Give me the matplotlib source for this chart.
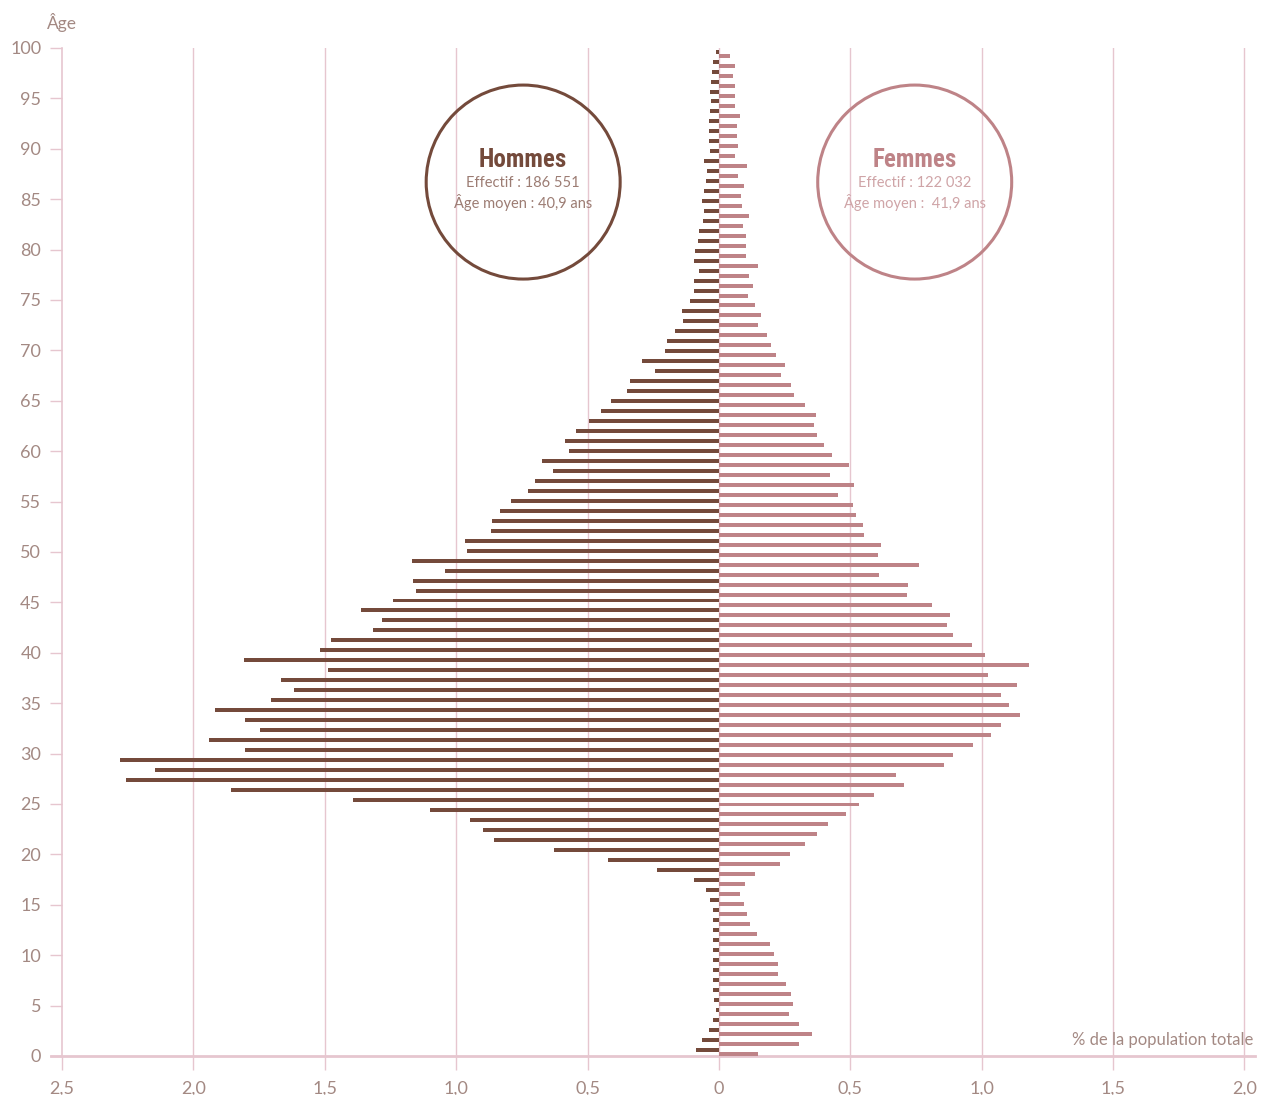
import matplotlib.pyplot as plt
from matplotlib.patches import Ellipse

# pyramide des âges, en % de la population totale
ages = list(range(0, 101))

hommes = [0.089, 0.066, 0.036, 0.024, 0.012, 0.017, 0.021, 0.021, 0.024, 0.024,
          0.024, 0.021, 0.024, 0.021, 0.024, 0.035, 0.051, 0.096, 0.234, 0.421,
          0.627, 0.855, 0.896, 0.946, 1.100, 1.394, 1.855, 2.256, 2.145, 2.281,
          1.805, 1.939, 1.747, 1.805, 1.919, 1.706, 1.618, 1.667, 1.489, 1.808,
          1.518, 1.477, 1.317, 1.283, 1.362, 1.240, 1.152, 1.163, 1.041, 1.167,
          0.957, 0.968, 0.867, 0.862, 0.835, 0.790, 0.726, 0.701, 0.633, 0.672,
          0.572, 0.584, 0.545, 0.495, 0.450, 0.412, 0.351, 0.337, 0.244, 0.294,
          0.204, 0.199, 0.168, 0.138, 0.142, 0.111, 0.096, 0.096, 0.077, 0.096,
          0.093, 0.081, 0.077, 0.062, 0.055, 0.066, 0.055, 0.051, 0.046, 0.055,
          0.035, 0.039, 0.039, 0.039, 0.035, 0.032, 0.035, 0.032, 0.028, 0.024,
          0.013]

femmes = [0.147, 0.303, 0.353, 0.303, 0.268, 0.281, 0.276, 0.257, 0.223, 0.223,
          0.208, 0.193, 0.143, 0.120, 0.105, 0.094, 0.082, 0.098, 0.139, 0.232,
          0.269, 0.328, 0.373, 0.416, 0.484, 0.534, 0.590, 0.706, 0.672, 0.857,
          0.889, 0.968, 1.036, 1.075, 1.147, 1.102, 1.075, 1.136, 1.023, 1.181,
          1.011, 0.962, 0.891, 0.869, 0.880, 0.812, 0.717, 0.719, 0.611, 0.762,
          0.606, 0.618, 0.552, 0.550, 0.523, 0.511, 0.452, 0.514, 0.423, 0.495,
          0.430, 0.400, 0.373, 0.362, 0.369, 0.328, 0.285, 0.274, 0.235, 0.251,
          0.217, 0.197, 0.182, 0.148, 0.160, 0.136, 0.110, 0.128, 0.113, 0.148,
          0.102, 0.102, 0.102, 0.090, 0.113, 0.087, 0.083, 0.094, 0.072, 0.105,
          0.063, 0.071, 0.067, 0.067, 0.079, 0.060, 0.060, 0.060, 0.052, 0.060,
          0.041]

x_ticks = [-2.5, -2.0, -1.5, -1.0, -0.5, 0, 0.5, 1.0, 1.5, 2.0]
x_labels = ['2,5', '2,0', '1,5', '1,0', '0,5', '0', '0,5', '1,0', '1,5', '2,0']
y_ticks = list(range(0, 101, 5))

col_h = '#744a3b'
col_f = '#be8387'
col_grid = '#e6c6cf'
col_txt = '#a38983'

plt.rcParams['font.family'] = ['Lato', 'DejaVu Sans']

fig = plt.figure(figsize=(12.65, 10.95), dpi=100)
ax = fig.add_axes([62 / 1265, 39 / 1095, (1255 - 62) / 1265, 1008 / 1095])

# une bande par âge, 101 âges répartis sur 0-100
bw = 100 / 101
pos = [a * bw for a in ages]
ax.barh([p + 0.44 * bw for p in pos], [-v for v in hommes], height=0.4 * bw,
        align='edge', color=col_h, zorder=3)
ax.barh(pos, femmes, height=0.4 * bw, align='edge', color=col_f, zorder=3)

ax.set_xlim(-2.5, 2.04)
ax.set_ylim(0, 100)

for x in x_ticks[1:]:
    ax.axvline(x, color=col_grid, lw=1, zorder=1)
ax.plot([-2.54, 2.04], [0, 0], color=col_grid, lw=2, clip_on=False, zorder=2)

for s in ['top', 'right', 'bottom']:
    ax.spines[s].set_visible(False)
ax.spines['left'].set_color(col_grid)
ax.spines['left'].set_linewidth(1.2)

ax.set_xticks(x_ticks)
ax.set_xticklabels(x_labels)
ax.set_yticks(y_ticks)
ax.tick_params(axis='x', length=10, width=1, color=col_grid, labelcolor=col_txt,
               labelsize=13, pad=8)
ax.tick_params(axis='y', length=9, width=1, color=col_grid, labelcolor=col_txt,
               labelsize=13, pad=6)

ax.text(0, 1.016, 'Âge', transform=ax.transAxes, ha='center', va='bottom',
        fontsize=12.5, color=col_txt)
ax.text(2.035, 0.8, '% de la population totale', ha='right', va='bottom',
        fontsize=12, color=col_txt)

# cercles des effectifs
rx = 97 / 262.8
ry = 97 / 10.08
ax.add_patch(Ellipse((-0.745, 86.7), 2 * rx, 2 * ry, fill=False, ec=col_h, lw=2.2, zorder=4))
ax.add_patch(Ellipse((0.745, 86.7), 2 * rx, 2 * ry, fill=False, ec=col_f, lw=2.2, zorder=4))

cond = ['Liberation Sans Narrow', 'Roboto Condensed', 'DejaVu Sans']
ax.text(-0.745, 88.9, 'Hommes', ha='center', va='center', fontsize=18,
        fontweight='heavy', family=cond, color=col_h)
ax.text(-0.745, 86.6, 'Effectif : 186 551', ha='center', va='center',
        fontsize=10.5, color='#9c7c73')
ax.text(-0.745, 84.7, 'Âge moyen : 40,9 ans', ha='center', va='center',
        fontsize=10.5, color='#9c7c73')
ax.text(0.745, 88.9, 'Femmes', ha='center', va='center', fontsize=18,
        fontweight='heavy', family=cond, color=col_f)
ax.text(0.745, 86.6, 'Effectif : 122 032', ha='center', va='center',
        fontsize=10.5, color='#cfa4a7')
ax.text(0.745, 84.7, 'Âge moyen :  41,9 ans', ha='center', va='center',
        fontsize=10.5, color='#cfa4a7')

fig.savefig('out.png', dpi=100)
